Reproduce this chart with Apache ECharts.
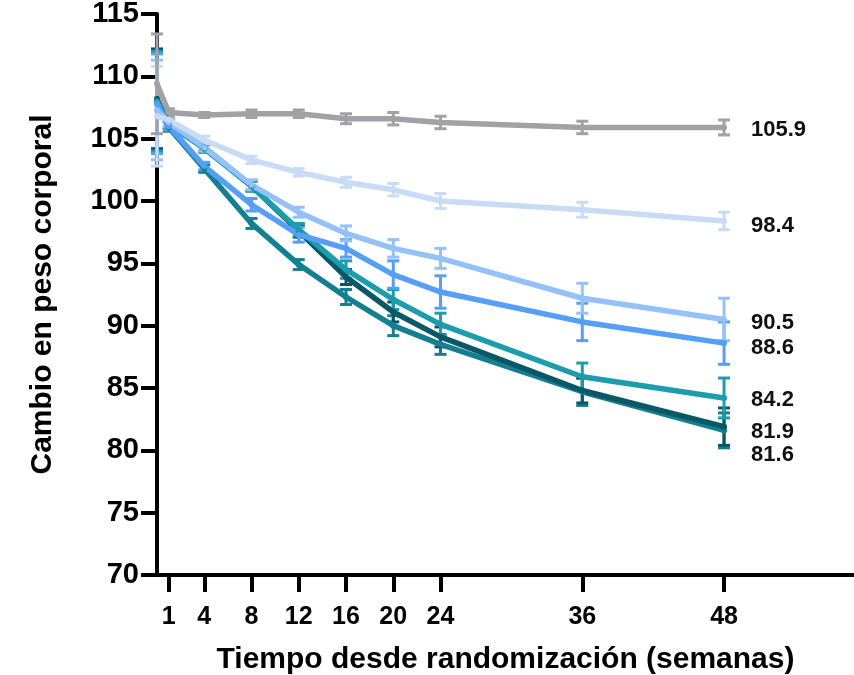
<!DOCTYPE html>
<html>
<head>
<meta charset="utf-8">
<script src="https://cdn.jsdelivr.net/npm/echarts@6/dist/echarts.min.js"></script>
<style>
  html, body { margin: 0; padding: 0; background: #fff; }
  #chart { width: 854px; height: 675px; }
</style>
</head>
<body>
<div id="chart"></div>
<script>
// Weeks since randomization
const weeks = [0, 1, 4, 8, 12, 16, 20, 24, 36, 48];
const weekTicks = [1, 4, 8, 12, 16, 20, 24, 36, 48];

// Mean body weight per group, with error bar half-widths
const grayMean      = [109.4, 107.1, 106.9, 107.0, 107.0, 106.6, 106.6, 106.3, 105.9, 105.9];
const grayErr       = [4.0, 0.3, 0.2, 0.3, 0.3, 0.4, 0.5, 0.5, 0.5, 0.6];
const paleMean      = [106.8, 106.5, 104.9, 103.3, 102.3, 101.5, 100.9, 100.0, 99.3, 98.4];
const paleErr       = [4.0, 0.3, 0.3, 0.3, 0.3, 0.4, 0.5, 0.6, 0.6, 0.7];
const lightMean     = [107.3, 106.3, 104.3, 101.3, 99.1, 97.4, 96.2, 95.4, 92.2, 90.5];
const lightErr      = [4.0, 0.3, 0.3, 0.4, 0.4, 0.6, 0.7, 0.8, 1.2, 1.7];
const blueMean      = [107.8, 106.0, 102.8, 99.7, 97.3, 96.2, 94.1, 92.7, 90.3, 88.6];
const blueErr       = [4.0, 0.3, 0.3, 0.5, 0.6, 0.7, 1.1, 1.3, 1.5, 1.7];
const tealMean      = [108.0, 106.2, 104.2, 101.2, 97.7, 94.5, 92.1, 90.1, 85.9, 84.2];
const tealErr       = [4.0, 0.3, 0.3, 0.4, 0.5, 0.7, 0.8, 0.9, 1.1, 1.6];
const darkMean      = [108.2, 106.1, 104.3, 101.2, 97.6, 93.9, 91.1, 89.1, 84.8, 81.9];
const darkErr       = [4.0, 0.3, 0.3, 0.4, 0.5, 0.6, 0.8, 0.8, 1.0, 1.5];
const deepMean      = [107.9, 105.9, 102.6, 98.2, 94.9, 92.3, 90.0, 88.5, 84.7, 81.6];
const deepErr       = [4.0, 0.3, 0.3, 0.4, 0.4, 0.6, 0.8, 0.8, 1.1, 1.4];

const FONT = '"Liberation Sans", Arial, sans-serif';

// Drawing order (first drawn is underneath)
const groups = [
  { mean: deepMean,  err: deepErr,  color: '#137f90', dy: 25 },
  { mean: darkMean,  err: darkErr,  color: '#0a5768', dy: 5 },
  { mean: tealMean,  err: tealErr,  color: '#1d9cae', dy: 2 },
  { mean: blueMean,  err: blueErr,  color: '#559ff7', dy: 5 },
  { mean: lightMean, err: lightErr, color: '#94c1f8', dy: 4 },
  { mean: paleMean,  err: paleErr,  color: '#c8dcf6', dy: 5 },
  { mean: grayMean,  err: grayErr,  color: '#a2a2a6', dy: 2 }
];

function errorBarRenderer(color) {
  return function (params, api) {
    const x = api.value(0), m = api.value(1), e = api.value(2);
    const top = api.coord([x, m + e]);
    const bot = api.coord([x, m - e]);
    const hw = 6;
    const style = { stroke: color, lineWidth: 3 };
    return {
      type: 'group',
      children: [
        { type: 'line', shape: { x1: top[0], y1: top[1], x2: bot[0], y2: bot[1] }, style },
        { type: 'line', shape: { x1: top[0] - hw, y1: top[1], x2: top[0] + hw, y2: top[1] }, style },
        { type: 'line', shape: { x1: bot[0] - hw, y1: bot[1], x2: bot[0] + hw, y2: bot[1] }, style }
      ]
    };
  };
}

const series = [];
groups.forEach(g => {
  const last = weeks.length - 1;
  const lineData = weeks.map((w, i) => {
    const item = { value: [w, g.mean[i]] };
    if (i === last) {
      item.label = {
        show: true,
        position: 'right',
        distance: 24,
        offset: [0, g.dy],
        formatter: p => p.value[1].toFixed(1),
        color: '#111',
        fontFamily: FONT,
        fontWeight: 'bold',
        fontSize: 22
      };
    }
    return item;
  });
  series.push({
    type: 'line',
    data: lineData,
    symbol: 'circle',
    symbolSize: 6,
    showSymbol: true,
    itemStyle: { color: g.color },
    lineStyle: { color: g.color, width: 5.5 },
    emphasis: { disabled: true },
    label: { show: false }
  });
  series.push({
    type: 'custom',
    data: weeks.map((w, i) => [w, g.mean[i], g.err[i]]),
    encode: { x: 0, y: 1 },
    renderItem: errorBarRenderer(g.color),
    silent: true
  });
});

const chart = echarts.init(document.getElementById('chart'));
chart.setOption({
  animation: false,
  backgroundColor: '#fff',
  grid: { left: 157, right: 0, top: 14, bottom: 100, containLabel: false, outerBoundsMode: 'none' },
  xAxis: {
    type: 'value',
    min: 0,
    max: 59,
    name: 'Tiempo desde randomización (semanas)',
    nameLocation: 'middle',
    nameGap: 70,
    nameTextStyle: { fontFamily: FONT, fontWeight: 'bold', fontSize: 30, color: '#000' },
    axisLine: { show: true, onZero: false, lineStyle: { color: '#000', width: 4 } },
    axisTick: { show: true, length: 17, lineStyle: { color: '#000', width: 4 }, customValues: weekTicks },
    axisLabel: {
      customValues: weekTicks,
      margin: 30,
      fontFamily: FONT, fontWeight: 'bold', fontSize: 25, color: '#000'
    },
    splitLine: { show: false }
  },
  yAxis: {
    type: 'value',
    min: 70,
    max: 115,
    interval: 5,
    name: 'Cambio en peso corporal',
    nameLocation: 'middle',
    nameGap: 99,
    nameTextStyle: { fontFamily: FONT, fontWeight: 'bold', fontSize: 30, color: '#000' },
    axisLine: { show: true, lineStyle: { color: '#000', width: 4 } },
    axisTick: { show: true, length: 16, lineStyle: { color: '#000', width: 4 } },
    axisLabel: { margin: 18, fontFamily: FONT, fontWeight: 'bold', fontSize: 29, color: '#000' },
    splitLine: { show: false }
  },
  series: series
});
</script>
</body>
</html>
